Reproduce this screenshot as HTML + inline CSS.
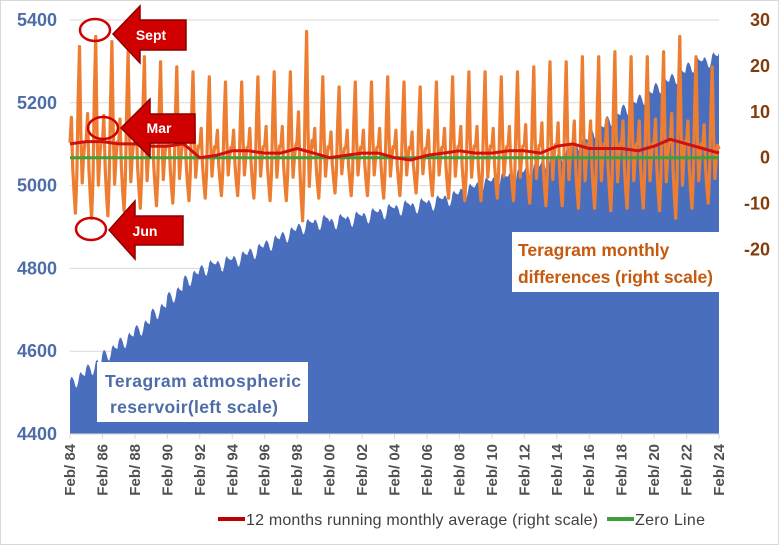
<!DOCTYPE html>
<html><head><meta charset="utf-8">
<style>
body{margin:0;background:#fff;}
svg{display:block;font-family:"Liberation Sans",sans-serif;}
</style></head>
<body>
<svg id="chart" width="779" height="545" viewBox="0 0 779 545">
<rect x="0.5" y="0.5" width="778" height="544" fill="#fff" stroke="#d9d9d9"/>
<g id="grid"></g>
<g id="area"></g>
<g id="lines"></g>
<g id="axes"></g>
<g id="annot"></g>
</svg>
<script>
const years = [84,85,86,87,88,89,90,91,92,93,94,95,96,97,98,99,0,1,2,3,4,5,6,7,8,9,10,11,12,13,14,15,16,17,18,19,20,21,22,23,24];
const reservoirAnnual = [4530,4560,4595,4625,4655,4695,4735,4775,4800,4810,4822,4840,4860,4880,4900,4910,4912,4918,4926,4936,4945,4950,4957,4968,4985,5000,5012,5022,5036,5052,5072,5100,5130,5160,5188,5212,5240,5262,5290,5302,5320];
const reservoirSeasonal = [0,8,6,-2,-15,-18,-6,14,20,14,12,10]; // Feb..Jan
const diffSeasonal = [3,8,-2,-7,-11,-4,11,22,5,-5,0,3]; // Feb..Jan
const diffAmplitude = [1.1,1.2,1.15,1.05,1.0,0.95,0.9,0.85,0.8,0.75,0.75,0.8,0.85,0.85,1.25,0.8,0.7,0.75,0.75,0.8,0.75,0.7,0.75,0.8,0.85,0.85,0.8,0.85,0.9,0.95,0.95,1.0,1.0,1.05,1.0,1.0,1.05,1.2,1.0,0.9,0.6];
const runningAvg = [3,3.5,3.5,3,3,2.5,2.5,3,0,0.5,1.5,1.5,1,1,2,1,0,0.5,1,1,0,-0.5,0.5,1,1.5,1,1,1.5,1.5,1,2.5,3,2,2,2,1.5,2.5,4,3,2,1];
const leftTicks = [4400,4600,4800,5000,5200,5400];
const rightTicks = [30,20,10,0,-10,-20];
const xTickLabels = ["84","86","88","90","92","94","96","98","00","02","04","06","08","10","12","14","16","18","20","22","24"];

const NS="http://www.w3.org/2000/svg";
const X0=70,X1=719,YL0=434,YL1=20;
const xM=i=>X0+i*(X1-X0)/480;
const yL=v=>YL0+(v-4400)*(YL1-YL0)/1000;
const yR=v=>20+(30-v)*45.9/10;
function mk(tag,attrs,parent){const e=document.createElementNS(NS,tag);for(const k in attrs)e.setAttribute(k,attrs[k]);parent.appendChild(e);return e;}
const grid=document.getElementById('grid'),area=document.getElementById('area'),lines=document.getElementById('lines'),axes=document.getElementById('axes'),annot=document.getElementById('annot');

leftTicks.forEach(v=>{
  if(v>4400){const g=mk('line',{x1:X0,x2:X1,y1:yL(v),y2:yL(v),stroke:'#d9d9d9','stroke-width':1},grid);
  
  }
  const t=mk('text',{x:57,y:yL(v)+6,'text-anchor':'end','font-size':18,'font-weight':'bold',fill:'#4E6DA8'},axes);
  t.textContent=v;
  
  
});
rightTicks.forEach(v=>{
  const t=mk('text',{x:770,y:yR(v)+6,'text-anchor':'end','font-size':18,'font-weight':'bold',fill:'#843C0C'},axes);
  t.textContent=v;
  
  
});
let pts=[];
for(let i=0;i<=480;i++){const y=Math.floor(i/12),m=i%12;const v=reservoirAnnual[Math.min(y,40)]+reservoirSeasonal[m]*(y>=40?0:1);pts.push(xM(i).toFixed(1)+','+yL(v).toFixed(1));}
const ar=mk('polygon',{points:X0+','+YL0+' '+pts.join(' ')+' '+X1+','+YL0,fill:'#4A6EBE'},area);


mk('line',{x1:X0,x2:X1,y1:YL0,y2:YL0,stroke:'#d9d9d9'},axes);
pts=[];
for(let i=0;i<=480;i++){const y=Math.min(Math.floor(i/12),40),m=i%12;const v=diffSeasonal[m]*diffAmplitude[y];pts.push(xM(i).toFixed(1)+','+yR(v).toFixed(1));}
const ol=mk('polyline',{points:pts.join(' '),fill:'none',stroke:'#ED7D31','stroke-width':3.2,'stroke-linejoin':'round'},lines);


const zl=mk('line',{x1:X0,x2:X1,y1:yR(0),y2:yR(0),stroke:'#3DA03A','stroke-width':3},lines);


pts=runningAvg.map((v,k)=>xM(k*12).toFixed(1)+','+yR(v).toFixed(1));
const rl=mk('polyline',{points:pts.join(' '),fill:'none',stroke:'#D01010','stroke-width':3,'stroke-linejoin':'round'},lines);


xTickLabels.forEach((l,k)=>{
  const x=xM(k*24);
  mk('line',{x1:x,x2:x,y1:YL0,y2:YL0+5,stroke:'#d9d9d9'},axes);
  const t=mk('text',{transform:`translate(${x+5},444) rotate(-90)`,'text-anchor':'end','font-size':15,'font-weight':'bold',fill:'#505050'},axes);
  t.textContent='Feb/ '+l;
  
  
});
</script>
<svg style="position:absolute;left:0;top:0" width="779" height="545">
<g font-family="Liberation Sans, sans-serif" font-weight="bold">
<rect x="512" y="232" width="207" height="60" fill="#fff"/>
<text x="518" y="256" font-size="17.5" fill="#C55A11">Teragram monthly</text>
<text x="518" y="283" font-size="17.5" fill="#C55A11" textLength="195">differences (right scale)</text>
<rect x="97" y="362" width="211" height="60" fill="#fff"/>
<text x="105" y="387" font-size="17.5" fill="#4E6DA8" textLength="196">Teragram atmospheric</text>
<text x="110" y="413" font-size="17.5" fill="#4E6DA8" textLength="168">reservoir(left scale)</text>
<g fill="#D00000" stroke="#8B0000" stroke-width="1.5">
<polygon points="113,34 140,6 140,20 186,20 186,50 140,50 140,63"/>
<polygon points="121,128 150,99 150,114 195,114 195,143 150,143 150,157"/>
<polygon points="109,230 135,201 135,216 183,216 183,245 135,245 135,259"/>
</g>
<text x="151" y="40" font-size="14" fill="#fff" text-anchor="middle">Sept</text>
<text x="159" y="133" font-size="14" fill="#fff" text-anchor="middle">Mar</text>
<text x="145" y="236" font-size="14" fill="#fff" text-anchor="middle">Jun</text>
<g fill="none" stroke="#D00000" stroke-width="2.5">
<ellipse cx="95" cy="30" rx="15" ry="11"/>
<ellipse cx="103" cy="128" rx="15" ry="11"/>
<ellipse cx="91" cy="229" rx="15" ry="11"/>
</g>
<line x1="218" y1="519" x2="245" y2="519" stroke="#C00000" stroke-width="4"/>
<text x="246" y="525" font-size="16" font-weight="normal" fill="#404040" textLength="352">12 months running monthly average (right scale)</text>
<line x1="607" y1="519" x2="634" y2="519" stroke="#3DA03A" stroke-width="4"/>
<text x="635" y="525" font-size="16" font-weight="normal" fill="#404040" textLength="70">Zero Line</text>
</g>
</svg>
</body></html>
